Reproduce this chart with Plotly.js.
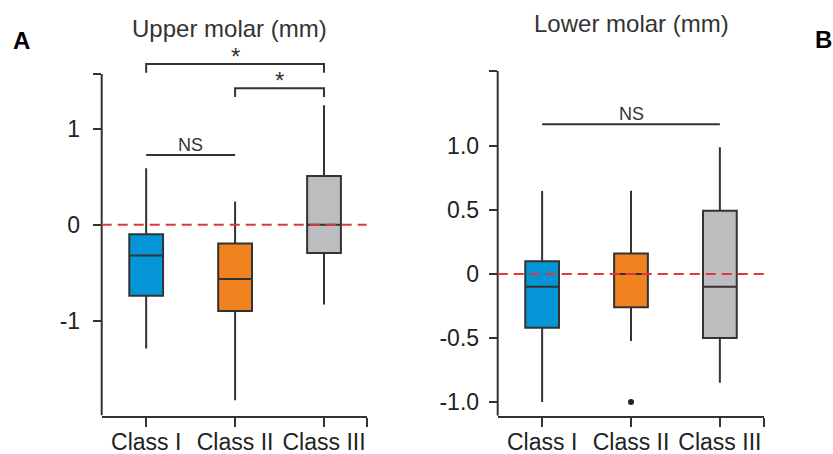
<!DOCTYPE html>
<html>
<head>
<meta charset="utf-8">
<script src="https://cdn.plot.ly/plotly-3.0.1.min.js"></script>
<style>html,body{margin:0;padding:0;background:#fff;}#chart{width:833px;height:454px;}</style>
</head>
<body>
<div id="chart"></div>
<script>
// ---- data ----
const categories = ['Class I', 'Class II', 'Class III'];
const boxColors = ['#0395D6', '#F0831F', '#BDBDBF'];

// Upper molar (mm)
const upperLowerFence = [-1.29, -1.83, -0.83];
const upperQ1 = [-0.74, -0.90, -0.295];
const upperMedian = [-0.32, -0.565, 0.0];
const upperQ3 = [-0.097, -0.195, 0.51];
const upperUpperFence = [0.59, 0.243, 1.247];

// Lower molar (mm)
const lowerLowerFence = [-1.0, -0.523, -0.85];
const lowerQ1 = [-0.42, -0.26, -0.50];
const lowerMedian = [-0.10, 0.0, -0.10];
const lowerQ3 = [0.10, 0.16, 0.495];
const lowerUpperFence = [0.648, 0.65, 0.99];
const lowerOutlierCat = ['Class II'];
const lowerOutlierVal = [-1.0];

// tick labels
const upperTickVals = [-1, 0, 1];
const upperTickText = ['-1', '0', '1'];
const lowerTickVals = [-1.0, -0.5, 0, 0.5, 1.0];
const lowerTickText = ['-1.0', '-0.5', '0', '0.5', '1.0'];

// significance annotations
const upperSig = [
  {from: 'Class I', to: 'Class II', y: 0.729, label: 'NS', bracket: false},
  {from: 'Class II', to: 'Class III', y: 1.425, label: '*', bracket: true},
  {from: 'Class I', to: 'Class III', y: 1.678, label: '*', bracket: true}
];
const lowerSig = [
  {from: 'Class I', to: 'Class III', y: 1.17, label: 'NS', bracket: false}
];

// ---- axis geometry ----
const W = 833, H = 454;
const upperYRange = [-1.99, 2.15];
const upperYAxisTop = 1.574;
const lowerYRange = [-1.107, 1.6];
const lowerYAxisTop = 1.585;
const upperXRange = [-0.5, 2.48];
const lowerXRange = [-0.5, 2.5];

const ink = '#333333';
const FONT = '"Liberation Sans", Arial, Helvetica, sans-serif';
const idx = c => categories.indexOf(c);

const traces = [];
function addBoxes(lf, q1, med, q3, uf, xa, ya) {
  categories.forEach((c, i) => {
    traces.push({
      type: 'box', x: [i], q1: [q1[i]], median: [med[i]], q3: [q3[i]],
      lowerfence: [lf[i]], upperfence: [uf[i]],
      fillcolor: boxColors[i], line: {color: ink, width: 2},
      whiskerwidth: 0, width: 0.38, boxpoints: false,
      xaxis: xa, yaxis: ya, showlegend: false, hoverinfo: 'skip'
    });
  });
}
addBoxes(upperLowerFence, upperQ1, upperMedian, upperQ3, upperUpperFence, 'x', 'y');
addBoxes(lowerLowerFence, lowerQ1, lowerMedian, lowerQ3, lowerUpperFence, 'x2', 'y2');
traces.push({
  type: 'scatter', mode: 'markers', x: lowerOutlierCat.map(idx), y: lowerOutlierVal,
  marker: {color: '#222', size: 6}, xaxis: 'x2', yaxis: 'y2', showlegend: false, hoverinfo: 'skip'
});

const shapes = [];
const annotations = [];

function panelDecor(xr, yr, yBottom, yTop, sig) {
  shapes.push({type: 'line', xref: xr + ' domain', x0: 0, x1: 0, yref: yr, y0: yBottom, y1: yTop,
    line: {color: ink, width: 2}, layer: 'above'});
  shapes.push({type: 'line', xref: xr + ' domain', x0: 0, x1: 1, yref: yr, y0: 0, y1: 0,
    line: {color: '#E0363C', width: 2, dash: '10px,6px'}, layer: 'above'});
  sig.forEach(s => {
    const a = idx(s.from), b = idx(s.to);
    if (s.bracket) {
      const d = 0.09;
      shapes.push({type: 'path', xref: xr, yref: yr,
        path: `M ${a},${s.y - d} L ${a},${s.y} L ${b},${s.y} L ${b},${s.y - d}`,
        line: {color: ink, width: 2}});
      annotations.push({xref: xr, yref: yr, x: (a + b) / 2, y: s.y, yanchor: 'bottom', yshift: -8,
        text: s.label, showarrow: false, font: {family: FONT, size: 24, color: ink}});
    } else {
      shapes.push({type: 'line', xref: xr, yref: yr, x0: a, x1: b, y0: s.y, y1: s.y,
        line: {color: ink, width: 2}});
      annotations.push({xref: xr, yref: yr, x: (a + b) / 2, y: s.y, yanchor: 'bottom', yshift: -2,
        text: s.label, showarrow: false, font: {family: FONT, size: 18, color: ink}});
    }
  });
}
panelDecor('x', 'y', upperYRange[0], upperYAxisTop, upperSig);
panelDecor('x2', 'y2', lowerYRange[0], lowerYAxisTop, lowerSig);

// titles & panel letters
annotations.push({xref: 'paper', yref: 'paper', x: 229 / W, y: 1 - 28 / H, text: 'Upper molar (mm)',
  showarrow: false, xanchor: 'center', yanchor: 'middle', font: {family: FONT, size: 24, color: ink}});
annotations.push({xref: 'paper', yref: 'paper', x: 631.5 / W, y: 1 - 24 / H, text: 'Lower molar (mm)',
  showarrow: false, xanchor: 'center', yanchor: 'middle', font: {family: FONT, size: 24, color: ink}});
annotations.push({xref: 'paper', yref: 'paper', x: 21 / W, y: 1 - 40 / H, text: '<b>A</b>',
  showarrow: false, xanchor: 'center', yanchor: 'middle', font: {family: FONT, size: 24, color: '#000'}});
annotations.push({xref: 'paper', yref: 'paper', x: 823 / W, y: 1 - 39 / H, text: '<b>B</b>',
  showarrow: false, xanchor: 'center', yanchor: 'middle', font: {family: FONT, size: 24, color: '#000'}});

function yPx(v, pxPerUnit, zeroPx) { return zeroPx - v * pxPerUnit; }
const upperScale = 95.85, upperZero = 224.85;
const lowerScale = 128, lowerZero = 274;
const upperDomainY = [1 - yPx(upperYRange[0], upperScale, upperZero) / H, 1 - yPx(upperYRange[1], upperScale, upperZero) / H];
const lowerDomainY = [1 - yPx(lowerYRange[0], lowerScale, lowerZero) / H, 1 - yPx(lowerYRange[1], lowerScale, lowerZero) / H];

const xBase = {
  showgrid: false, zeroline: false, showline: true, linecolor: ink, linewidth: 2,
  ticks: 'outside', ticklen: 9, tickwidth: 2, tickcolor: ink, ticklabelstandoff: -4,
  tickfont: {family: FONT, size: 23, color: '#222'}, tickmode: 'array', fixedrange: true
};
const yBase = {
  showgrid: false, zeroline: false, showline: false,
  ticks: 'outside', ticklen: 8, tickwidth: 2, tickcolor: ink,
  tickfont: {family: FONT, size: 23, color: '#222'}, tickmode: 'array', fixedrange: true
};

const layout = {
  width: W, height: H, margin: {l: 0, r: 0, t: 0, b: 0},
  paper_bgcolor: '#fff', plot_bgcolor: 'rgba(0,0,0,0)', showlegend: false,
  xaxis: Object.assign({}, xBase, {domain: [101.7 / W, 366.7 / W], range: upperXRange, anchor: 'y',
    tickvals: categories.map((c, i) => i).concat([upperXRange[1] - 0.001]), ticktext: categories.concat([''])}),
  yaxis: Object.assign({}, yBase, {domain: upperDomainY, range: upperYRange, anchor: 'x',
    tickvals: upperTickVals.concat([upperYAxisTop]), ticktext: upperTickText.concat(['']), ticklabelstandoff: 8}),
  xaxis2: Object.assign({}, xBase, {domain: [497.7 / W, 764.3 / W], range: lowerXRange, anchor: 'y2',
    tickvals: categories.map((c, i) => i).concat([lowerXRange[1] - 0.001]), ticktext: categories.concat([''])}),
  yaxis2: Object.assign({}, yBase, {domain: lowerDomainY, range: lowerYRange, anchor: 'x2',
    tickvals: lowerTickVals.concat([lowerYAxisTop]), ticktext: lowerTickText.concat(['']), ticklabelstandoff: 5}),
  shapes: shapes, annotations: annotations
};

Plotly.newPlot('chart', traces, layout, {displayModeBar: false, staticPlot: true});
</script>
</body>
</html>
